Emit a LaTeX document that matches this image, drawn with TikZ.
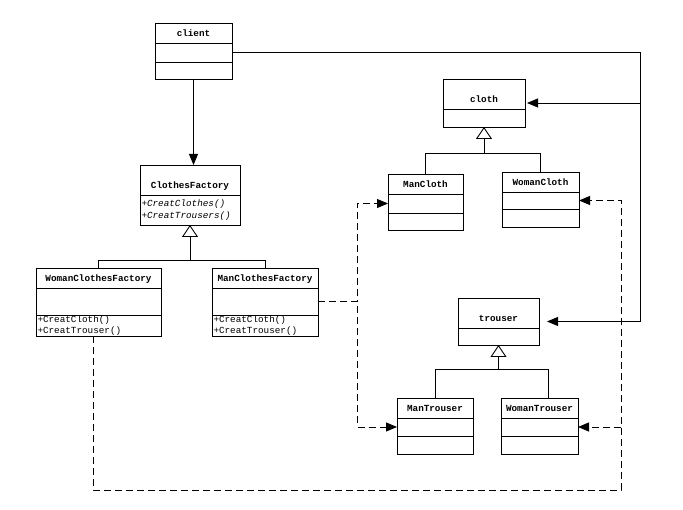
\documentclass[tikz,border=0pt]{standalone}
\usepackage{fontspec}
\setmonofont{Liberation Mono}
\usetikzlibrary{positioning, calc, arrows.meta}

\begin{document}
\begin{tikzpicture}[
    x=1pt, y=-1pt,
    box/.style={draw=black, line width=0.9pt, inner sep=0pt, outer sep=0pt, fill=white},
    clsname/.style={box, font=\ttfamily\bfseries\fontsize{9.3}{11}\selectfont, text height=14pt, text depth=6pt},
    tallname/.style={clsname, text height=24pt},
    opsbox/.style={box, font=\ttfamily\fontsize{9.3}{10.5}\selectfont, align=left, inner xsep=1.5pt, inner ysep=0pt},
    absops/.style={opsbox, font=\ttfamily\itshape\fontsize{9.3}{12}\selectfont},
    link/.style={line width=0.9pt},
    assoc/.style={line width=0.9pt, -{Triangle[length=11pt, width=9pt]}},
    inherit/.style={line width=0.9pt, -{Triangle[open, length=12pt, width=16pt]}},
    dep/.style={line width=0.9pt, dash pattern=on 7pt off 4pt, -{Triangle[length=11pt, width=9pt]}}
]
\useasboundingbox (0,0) rectangle (683,510);

% --- CLASSES ---
% client
\node[clsname, minimum width=77pt, anchor=north west] (client) at (155,23) {client};
\node[box, minimum width=77pt, minimum height=19pt, below=0pt of client] (client-a) {};
\node[box, minimum width=77pt, minimum height=17pt, below=0pt of client-a] (client-o) {};

% abstract factory
\node[tallname, minimum width=100pt, anchor=north west] (cf) at (140,165) {ClothesFactory};
\node[absops, text width=97pt, minimum height=30pt, below=0pt of cf] (cf-o) {+CreatClothes()\\+CreatTrousers()};

% concrete factories
\node[clsname, minimum width=125pt, anchor=north west] (wcf) at (36,268) {WomanClothesFactory};
\node[box, minimum width=125pt, minimum height=27pt, below=0pt of wcf] (wcf-a) {};
\node[opsbox, text width=122pt, minimum height=21pt, below=0pt of wcf-a] (wcf-o) {+CreatCloth()\\+CreatTrouser()};

\node[clsname, minimum width=106pt, anchor=north west] (mcf) at (212,268) {ManClothesFactory};
\node[box, minimum width=106pt, minimum height=27pt, below=0pt of mcf] (mcf-a) {};
\node[opsbox, text width=103pt, minimum height=21pt, below=0pt of mcf-a] (mcf-o) {+CreatCloth()\\+CreatTrouser()};

% cloth and its products
\node[tallname, minimum width=82pt, anchor=north west] (cloth) at (443,79) {cloth};
\node[box, minimum width=82pt, minimum height=18pt, below=0pt of cloth] (cloth-a) {};

\node[clsname, minimum width=75pt, anchor=north west] (mc) at (388,174) {ManCloth};
\node[box, minimum width=75pt, minimum height=19pt, below=0pt of mc] (mc-a) {};
\node[box, minimum width=75pt, minimum height=17pt, below=0pt of mc-a] (mc-o) {};

\node[clsname, minimum width=77pt, anchor=north west] (wc) at (502,172) {WomanCloth};
\node[box, minimum width=77pt, minimum height=17pt, below=0pt of wc] (wc-a) {};
\node[box, minimum width=77pt, minimum height=18pt, below=0pt of wc-a] (wc-o) {};

% trouser and its products
\node[tallname, minimum width=81pt, anchor=north west] (trouser) at (458,298) {trouser};
\node[box, minimum width=81pt, minimum height=17pt, below=0pt of trouser] (trouser-a) {};

\node[clsname, minimum width=76pt, anchor=north west] (mt) at (397,398) {ManTrouser};
\node[box, minimum width=76pt, minimum height=18pt, below=0pt of mt] (mt-a) {};
\node[box, minimum width=76pt, minimum height=18pt, below=0pt of mt-a] (mt-o) {};

\node[clsname, minimum width=77pt, anchor=north west] (wt) at (501,398) {WomanTrouser};
\node[box, minimum width=77pt, minimum height=18pt, below=0pt of wt] (wt-a) {};
\node[box, minimum width=77pt, minimum height=18pt, below=0pt of wt-a] (wt-o) {};

% middle points and bends of the connectors
\coordinate (cloth-c) at ($(cloth.north east)!.5!(cloth-a.south east)$);
\coordinate (trouser-c) at ($(trouser.north east)!.5!(trouser-a.south east)$);
\coordinate (rbus) at (640,0);
\coordinate (mbus) at (357,0);
\coordinate (wdep) at (93,0);
\coordinate (corner) at (621,490);

% --- CONNECTORS ---
% 1. client uses the factory and the products
\draw[assoc] (client-o.south) -- (client-o.south |- cf.north);
\draw[assoc, shorten >=8pt] (client-a.east) -| (rbus |- trouser-c) -- (trouser-c);
\draw[assoc, shorten >=2pt] (rbus |- cloth-c) -- (cloth-c);

% 2. generalisation
\draw[inherit] (wcf.north) |- ($(cf-o.south)+(0,35)$) -| (cf-o.south);
\draw[link] (mcf.north) |- ($(cf-o.south)+(0,35)$);

\draw[inherit] (mc.north) |- ($(cloth-a.south)+(0,26)$) -| (cloth-a.south);
\draw[link] (wc.north) |- ($(cloth-a.south)+(0,26)$);

\draw[inherit] (mt.north) |- ($(trouser-a.south)+(0,24)$) -| (trouser-a.south);
\draw[link] ($(wt.north)+(8.5,0)$) |- ($(trouser-a.south)+(0,24)$);

% 3. dashed dependencies of the concrete factories
\draw[dep] (mcf-a.east) -| (mbus |- mc-a.west) -- (mc-a.west);
\draw[dep] (mcf-a.east) -| (mbus |- mt-a.west) -- (mt-a.west);

\draw[dep] (wcf-o.south -| wdep) |- (corner) |- (wc-a.east);
\draw[dep] (corner |- wt-a.east) -- (wt-a.east);

\end{tikzpicture}
\end{document}
